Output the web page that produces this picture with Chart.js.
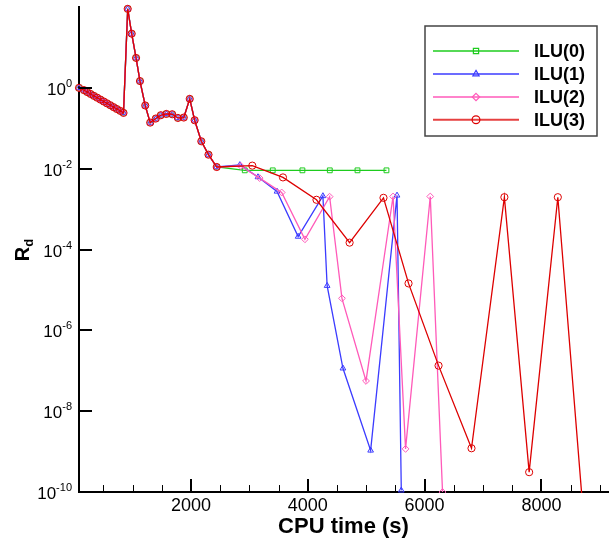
<!DOCTYPE html>
<html>
<head>
<meta charset="utf-8">
<script src="https://cdn.jsdelivr.net/npm/chart.js@4.4.1/dist/chart.umd.min.js"></script>
<style>
html,body{margin:0;padding:0;background:#fff;}
#wrap{width:613px;height:544px;position:relative;}
</style>
</head>
<body>
<div id="wrap"><canvas id="c" width="613" height="544"></canvas></div>
<script>
// ---------------- data ----------------
const seriesNames = ['ILU(0)', 'ILU(1)', 'ILU(2)', 'ILU(3)'];

// shared start of all four runs
const commonTime = [83, 168, 223, 281, 337, 393, 450, 506, 562, 619, 675, 731, 789, 845,
  917, 985, 1060, 1127, 1217, 1302, 1398, 1483, 1578, 1679, 1776, 1877, 1979, 2063, 2177, 2300, 2441];
const commonRd = [1.0, 0.877, 0.787, 0.706, 0.634, 0.571, 0.512, 0.46, 0.413, 0.371, 0.333, 0.299, 0.269, 0.24,
  90, 21.9, 5.5, 1.47, 0.366, 0.138, 0.174, 0.21, 0.226, 0.222, 0.18, 0.184, 0.533, 0.158, 0.0476, 0.0222, 0.011];

const ilu0Time = [2921, 3400, 3908, 4377, 4851, 5347];
const ilu0Rd   = [0.0091, 0.0091, 0.0091, 0.0091, 0.0091, 0.0091];

const ilu1Time = [2837, 3147, 3473, 3835, 4259, 4331, 4602, 5076, 5528, 5601];
const ilu1Rd   = [0.0124, 0.0062, 0.00273, 2.09e-4, 0.00211, 1.27e-5, 1.15e-7, 1.07e-9, 0.00218, 1.1e-10];

const ilu2Time = [2853, 3176, 3553, 3951, 4374, 4585, 4997, 5460, 5674, 6097, 6307];
const ilu2Rd   = [0.0117, 0.00585, 0.00258, 1.79e-4, 0.00203, 6.2e-6, 5.6e-8, 0.00205, 1.17e-9, 0.00205, 1.0e-10];

const ilu3Time = [3050, 3575, 4149, 4716, 5296, 5725, 6239, 6803, 7366, 7790, 8281, 8798];
const ilu3Rd   = [0.0119, 0.00608, 0.0017, 1.48e-4, 0.0019, 1.45e-5, 1.34e-7, 1.21e-9, 0.00197, 3.1e-10, 0.00197, 1e-12];

const xTickValues = [2000, 4000, 6000, 8000];
const yTickExponents = [0, -2, -4, -6, -8, -10];

// ---------------- styles ----------------
const FONT = '"Liberation Sans", Arial, Helvetica, sans-serif';
const colors = ['#1ecc1e', '#3b3bff', '#ff5ab9', '#dd0000'];
const pointStyles = ['rect', 'triangle', 'rectRot', 'circle'];
const pointRadii = [3.4, 3.3, 3.4, 3.6];

function buildPoints(tx, ty) {
  const xs = commonTime.concat(tx), ys = commonRd.concat(ty);
  return xs.map((x, i) => ({ x: x, y: ys[i] }));
}
const seriesTime = [ilu0Time, ilu1Time, ilu2Time, ilu3Time];
const seriesRd = [ilu0Rd, ilu1Rd, ilu2Rd, ilu3Rd];

const datasets = seriesNames.map((name, i) => ({
  label: name,
  data: buildPoints(seriesTime[i], seriesRd[i]),
  borderColor: colors[i],
  backgroundColor: colors[i],
  borderWidth: 1.3,
  pointStyle: pointStyles[i],
  pointRadius: pointRadii[i],
  pointBorderWidth: 1,
  pointBorderColor: colors[i],
  pointBackgroundColor: 'rgba(0,0,0,0)',
  showLine: true,
  tension: 0,
  order: 3 - i,
  clip: { left: 6, top: 6, right: 6, bottom: 1 }
}));

// ---------------- decoration plugin ----------------
function marker(ctx, style, x, y, r) {
  ctx.beginPath();
  if (style === 'rect') {
    const s = r * Math.SQRT1_2;
    ctx.rect(x - s, y - s, 2 * s, 2 * s);
  } else if (style === 'triangle') {
    ctx.moveTo(x, y - r);
    ctx.lineTo(x + r * Math.sin(2 * Math.PI / 3), y - r * Math.cos(2 * Math.PI / 3));
    ctx.lineTo(x - r * Math.sin(2 * Math.PI / 3), y - r * Math.cos(2 * Math.PI / 3));
    ctx.closePath();
  } else if (style === 'rectRot') {
    ctx.moveTo(x, y - r); ctx.lineTo(x + r, y); ctx.lineTo(x, y + r); ctx.lineTo(x - r, y); ctx.closePath();
  } else {
    ctx.arc(x, y, r, 0, Math.PI * 2);
  }
  ctx.stroke();
}

const deco = {
  id: 'deco',
  afterDraw(chart) {
    const ctx = chart.ctx, xs = chart.scales.x, ys = chart.scales.y, a = chart.chartArea;
    ctx.save();
    ctx.strokeStyle = '#000';
    // x ticks (inward)
    for (let v = 500; v <= xs.max; v += 500) {
      const px = Math.round(xs.getPixelForValue(v));
      const major = v % 2000 === 0;
      ctx.lineWidth = major ? 2 : 1;
      const off = major ? 0 : 0.5;
      ctx.beginPath();
      ctx.moveTo(px + off, a.bottom);
      ctx.lineTo(px + off, a.bottom - (major ? 13 : 7));
      ctx.stroke();
    }
    // y ticks (inward) + labels
    ctx.fillStyle = '#000';
    yTickExponents.forEach(e => {
      const py = Math.round(ys.getPixelForValue(Math.pow(10, e)));
      ctx.lineWidth = 2;
      ctx.beginPath();
      ctx.moveTo(a.left, py);
      ctx.lineTo(a.left + 13, py);
      ctx.stroke();
      const expText = String(e);
      ctx.font = '11px ' + FONT;
      const we = ctx.measureText(expText).width;
      ctx.font = '17px ' + FONT;
      const wb = ctx.measureText('10').width;
      const right = a.left - 7;
      ctx.textAlign = 'left';
      ctx.textBaseline = 'alphabetic';
      ctx.fillText('10', right - we - wb, py + 6.5);
      ctx.font = '11px ' + FONT;
      ctx.fillText(expText, right - we, py - 1.5);
    });
    // y title R_d
    ctx.save();
    ctx.translate(0, 250);
    ctx.rotate(-Math.PI / 2);
    ctx.font = 'bold 20px ' + FONT;
    const wR = ctx.measureText('R').width;
    ctx.font = 'bold 13px ' + FONT;
    const wd = ctx.measureText('d').width;
    const tot = wR + wd;
    ctx.textAlign = 'left';
    ctx.textBaseline = 'alphabetic';
    ctx.font = 'bold 20px ' + FONT;
    ctx.fillText('R', -tot / 2, 29);
    ctx.font = 'bold 13px ' + FONT;
    ctx.fillText('d', -tot / 2 + wR, 33);
    ctx.restore();

    // legend
    const bx = 425, by = 26, bw = 172, bh = 110;
    ctx.lineWidth = 1.5;
    ctx.strokeStyle = '#444';
    ctx.strokeRect(bx, by, bw, bh);
    const rowY = [51, 74, 97, 119.7];
    seriesNames.forEach((name, i) => {
      const y = rowY[i];
      ctx.globalAlpha = 0.75;
      ctx.strokeStyle = colors[i];
      ctx.lineWidth = 2;
      ctx.beginPath();
      ctx.moveTo(433, y);
      ctx.lineTo(519, y);
      ctx.stroke();
      ctx.globalAlpha = 1;
      ctx.lineWidth = 1.2;
      marker(ctx, pointStyles[i], 476, y, pointRadii[i] + 0.3);
      ctx.fillStyle = '#000';
      ctx.font = 'bold 18px ' + FONT;
      ctx.textAlign = 'left';
      ctx.textBaseline = 'middle';
      ctx.fillText(name, 534, y + 1);
    });
    ctx.restore();
  }
};

new Chart(document.getElementById('c'), {
  type: 'scatter',
  data: { datasets: datasets },
  options: {
    responsive: false,
    animation: false,
    devicePixelRatio: 1,
    layout: { padding: { left: 79, right: 0, top: 7, bottom: 10 } },
    plugins: { legend: { display: false }, tooltip: { enabled: false } },
    scales: {
      x: {
        type: 'linear',
        min: 83,
        max: 9140,
        grid: { display: false, drawTicks: false },
        border: { display: true, color: '#000', width: 2 },
        afterBuildTicks: s => { s.ticks = xTickValues.map(v => ({ value: v })); },
        ticks: {
          color: '#000',
          font: { family: FONT, size: 18, lineHeight: 1 },
          padding: 4.5,
          maxRotation: 0,
          autoSkip: false,
          callback: v => String(v)
        },
        title: {
          display: true,
          text: 'CPU time (s)',
          color: '#000',
          font: { family: FONT, size: 22, weight: 'bold', lineHeight: 0.68 },
          padding: { top: 0, bottom: 0 }
        }
      },
      y: {
        type: 'logarithmic',
        min: 1e-10,
        max: 1e2,
        grid: { display: false, drawTicks: false },
        border: { display: true, color: '#000', width: 2 },
        afterBuildTicks: s => { s.ticks = yTickExponents.map(e => ({ value: Math.pow(10, e) })); },
        ticks: { display: false }
      }
    }
  },
  plugins: [deco]
});
</script>
</body>
</html>
